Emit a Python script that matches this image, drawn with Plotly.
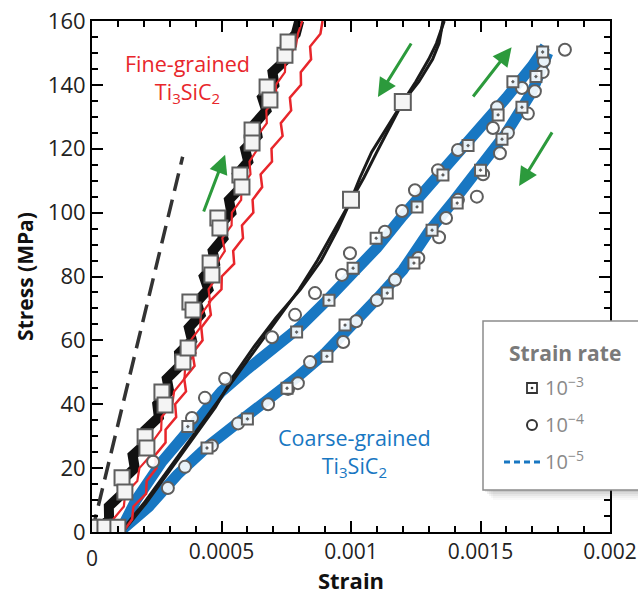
import plotly.graph_objects as go

# ---------------- data (strain in units of 1e-6 where noted, stress in MPa) ----------------
# Fine-grained Ti3SiC2, strain rate 1e-3: noisy black loading band
fine_stress = [0, 4, 8, 12, 16, 20, 24, 28, 32, 36, 40, 44, 48, 52, 56, 60, 64, 68, 72, 76, 80,
               84, 88, 92, 96, 100, 104, 108, 112, 116, 120, 124, 128, 132, 136, 140, 144, 148,
               152, 156, 160]
fine_black_strain_u = [20, 66, 65, 117, 114, 165, 157, 212, 206, 258, 252, 298, 289, 339, 336,
                       386, 374, 419, 404, 449, 432, 475, 466, 507, 491, 538, 529, 576, 560, 603,
                       591, 639, 630, 673, 657, 704, 697, 750, 745, 787, 800]
# Fine-grained, 1e-4 (red, running along the black band)
fine_red1_strain_u = [68, 82, 123, 128, 175, 183, 227, 231, 267, 269, 310, 317, 357, 360, 400,
                      381, 418, 420, 456, 450, 483, 481, 513, 503, 539, 540, 576, 577, 612, 608,
                      640, 639, 675, 673, 712, 710, 745, 747, 787, 795, 812]
# Fine-grained, 1e-5 (red, softer response)
fine_red2_strain_u = [120, 155, 160, 209, 211, 249, 243, 284, 284, 325, 321, 363, 356, 396, 388,
                      427, 422, 459, 452, 500, 501, 549, 545, 583, 579, 623, 620, 657, 651, 695,
                      693, 736, 729, 769, 764, 807, 806, 846, 842, 882, 890]

# Fine-grained 1e-3 markers
fine_sq_strain_u = [0, 50, 100, 116, 127, 205, 212, 270, 282, 351, 371, 378, 390, 456, 463, 486,
                    494, 571, 579, 618, 618, 676, 687, 745, 757]
fine_sq_stress = [1.5, 1.5, 1.5, 17, 12.5, 29.8, 26.3, 43.8, 39.8, 53.2, 57.6, 72, 69.5, 84.2,
                  80.5, 98.3, 95.2, 111.8, 108, 125.9, 121.8, 139.3, 135.3, 149.3, 153.4]

# Elastic reference line (dashed)
elastic_strain_u = [0, 350]
elastic_stress = [0, 117.5]

# Coarse-grained Ti3SiC2, 1e-3: loading / unloading loop (black)
coarse_a_strain_u = [110, 200, 290, 380, 470, 560, 640, 720, 800, 870, 940, 1000, 1050, 1100,
                     1150, 1200, 1250, 1300, 1330, 1360]
coarse_a_stress = [0, 9, 19, 29, 39, 49, 58, 67, 76, 85, 95, 104, 111, 119, 127, 134.6, 141,
                   148, 153, 160]
coarse_b_strain_u = [118, 208, 298, 388, 476, 548, 625, 710, 805, 885, 950, 1000, 1035, 1080,
                     1140, 1200, 1262, 1315, 1340, 1355]
coarse_b_stress = coarse_a_stress
coarse_big_sq_strain_u = [1000, 1200]
coarse_big_sq_stress = [104, 134.6]

# Coarse-grained, 1e-5: loading (upper) and unloading (lower) bands (blue)
blue_up_strain_u = [120, 170, 270, 400, 500, 600, 700, 800, 900, 1000, 1100, 1200, 1300, 1400,
                    1500, 1600, 1700, 1750]
blue_up_stress = [2, 10, 22, 35, 44, 51, 57, 64, 72, 80, 89, 99, 108, 117, 126, 136, 146, 152]
blue_dn_strain_u = [120, 220, 330, 450, 560, 680, 800, 900, 1000, 1100, 1200, 1300, 1400, 1500,
                    1600, 1700, 1760]
blue_dn_stress = [1, 8, 18, 27, 34, 41, 49, 56, 64, 73, 82, 94, 104, 114, 125, 138, 150]

# Coarse-grained, 1e-4 (open circles)
circ_strain_u = [236, 386, 436, 514, 695, 784, 861, 965, 996, 1131, 1197, 1247, 1336, 1413,
                 1548, 1564, 1660, 293, 359, 463, 564, 680, 757, 795, 842, 970, 1020, 1100, 1170,
                 1260, 1340, 1367, 1413, 1486, 1510, 1575, 1606, 1683, 1710, 1740, 1745, 1826]
circ_stress = [22, 35.7, 42, 48, 61, 68, 74.8, 80.5, 87.3, 94, 100.5, 107, 113.3, 119.6, 126.5,
               133, 139, 13.8, 20.4, 27, 34, 40, 44.8, 46.6, 53.2, 59.5, 66, 72.6, 79, 85.8, 92.3,
               98.3, 104, 105, 112, 118.6, 125, 131, 138, 144, 147.5, 151]

# Coarse-grained, 1e-3 (dotted squares)
dsq_strain_u = [370, 444, 600, 753, 790, 907, 915, 977, 1008, 1097, 1140, 1243, 1255, 1313,
                1355, 1410, 1452, 1500, 1568, 1583, 1625, 1660, 1714, 1740]
dsq_stress = [33, 26.3, 35.4, 45, 62.6, 55, 72.6, 64.8, 82.6, 92, 74.8, 84.2, 101.8, 94.5, 111.8,
              103, 121, 113.3, 130.6, 123, 141, 133, 142.6, 150.3]

# Loading / unloading direction arrows: (tail strain, tail stress, head strain, head stress)
arrow_tail_strain_u = [429, 1236, 1467, 1780]
arrow_tail_stress = [99.9, 153.4, 135.9, 125.6]
arrow_head_strain_u = [514, 1104, 1620, 1649]
arrow_head_stress = [118.1, 136.2, 151.8, 108.3]

x_tick_vals = [0.0005, 0.001, 0.0015, 0.002]
x_tick_text = ["0.0005", "0.001", "0.0015", "0.002"]
legend_labels = ["10<sup>\u22123</sup>", "10<sup>\u22124</sup>", "10<sup>\u22125</sup>"]


def u(vals):
    return [v * 1e-6 for v in vals]


FONT = "Open Sans"
BLUE = "#1877c2"
RED = "#e8262b"
GREEN = "#2c9a3c"
MARKER_EDGE = "#5e5e5e"

fig = go.Figure()

# blue bands (coarse-grained, 1e-5)
for xs, ys in ((blue_up_strain_u, blue_up_stress), (blue_dn_strain_u, blue_dn_stress)):
    fig.add_trace(go.Scatter(x=u(xs), y=ys, mode="lines",
                             line=dict(color=BLUE, width=11), hoverinfo="skip"))

# coarse-grained 1e-3 loop
for xs, ys in ((coarse_a_strain_u, coarse_a_stress), (coarse_b_strain_u, coarse_b_stress)):
    fig.add_trace(go.Scatter(x=u(xs), y=ys, mode="lines",
                             line=dict(color="#1a1a1a", width=3), hoverinfo="skip"))

# fine-grained curves
fig.add_trace(go.Scatter(x=u(fine_red2_strain_u), y=fine_stress, mode="lines",
                         line=dict(color=RED, width=2.5), hoverinfo="skip"))
fig.add_trace(go.Scatter(x=u(fine_black_strain_u), y=fine_stress, mode="lines",
                         line=dict(color="#111111", width=10), hoverinfo="skip"))
fig.add_trace(go.Scatter(x=u(fine_red1_strain_u), y=fine_stress, mode="lines",
                         line=dict(color=RED, width=2.2), hoverinfo="skip"))

# dashed elastic line
fig.add_trace(go.Scatter(x=u(elastic_strain_u), y=elastic_stress, mode="lines",
                         line=dict(color="#333333", width=3.5, dash="18px,9px"),
                         hoverinfo="skip"))

# markers
fig.add_trace(go.Scatter(x=u(circ_strain_u), y=circ_stress, mode="markers",
                         marker=dict(symbol="circle", size=12, color="rgba(255,255,255,0.9)",
                                     line=dict(color=MARKER_EDGE, width=2)),
                         hoverinfo="skip"))
fig.add_trace(go.Scatter(x=u(dsq_strain_u), y=dsq_stress, mode="markers",
                         marker=dict(symbol="square-dot", size=11, color="rgba(255,255,255,0.9)",
                                     line=dict(color=MARKER_EDGE, width=2)),
                         hoverinfo="skip"))
fig.add_trace(go.Scatter(x=u(fine_sq_strain_u), y=fine_sq_stress, mode="markers",
                         marker=dict(symbol="square", size=15, color="#f4f4f4",
                                     line=dict(color=MARKER_EDGE, width=2)),
                         hoverinfo="skip"))
fig.add_trace(go.Scatter(x=u(coarse_big_sq_strain_u), y=coarse_big_sq_stress, mode="markers",
                         marker=dict(symbol="square", size=16, color="#f4f4f4",
                                     line=dict(color=MARKER_EDGE, width=2)),
                         hoverinfo="skip"))

annotations = []
# direction arrows
for tx, ty, hx, hy in zip(u(arrow_tail_strain_u), arrow_tail_stress,
                          u(arrow_head_strain_u), arrow_head_stress):
    annotations.append(dict(x=hx, y=hy, ax=tx, ay=ty, xref="x", yref="y", axref="x", ayref="y",
                            text="", showarrow=True, arrowhead=2, arrowsize=1.25,
                            arrowwidth=3, arrowcolor=GREEN))

# labels for the two materials
annotations.append(dict(x=0.00037, y=142, xref="x", yref="y", showarrow=False,
                        text="Fine-grained<br>Ti<sub>3</sub>SiC<sub>2</sub>",
                        xanchor="center", yanchor="middle",
                        font=dict(family=FONT, size=21.5, color=RED), align="center"))
annotations.append(dict(x=0.001015, y=25, xref="x", yref="y", showarrow=False,
                        text="Coarse-grained<br>Ti<sub>3</sub>SiC<sub>2</sub>",
                        xanchor="center", yanchor="middle",
                        font=dict(family=FONT, size=21.5, color=BLUE), align="center"))

# lowered "0" label of the strain axis
annotations.append(dict(x=0, y=-0.051, xref="x", yref="paper", showarrow=False, text="0",
                        xanchor="center", yanchor="middle",
                        font=dict(family=FONT, size=21, color="#222222")))

# legend box content (positions given in figure pixels)
PW, PH, L, B = 518.0, 511.0, 92.0, 532.0


def px(xp):
    return (xp - L) / PW


def py(yp):
    return (B - yp) / PH


annotations.append(dict(x=px(565), y=py(353), xref="paper", yref="paper", showarrow=False,
                        text="<b>Strain rate</b>", xanchor="center", yanchor="middle",
                        font=dict(family=FONT, size=21, color="#7a7a7a")))
for lbl, yy in zip(legend_labels, [386, 423, 460]):
    annotations.append(dict(x=px(543), y=py(yy), xref="paper", yref="paper", showarrow=False,
                            text=lbl, xanchor="left", yanchor="middle",
                            font=dict(family=FONT, size=20, color="#8a8a8a")))

shapes = []
# legend shadow
for k, op in enumerate([0.10, 0.08, 0.06, 0.04, 0.03]):
    d = 2 + 2 * k
    shapes.append(dict(type="rect", xref="paper", yref="paper", x0=px(483 + d), x1=px(660),
                       y0=py(490 + d), y1=py(321 + d), line=dict(width=0),
                       fillcolor=f"rgba(60,60,60,{op})", layer="above"))
shapes.append(dict(type="rect", xref="paper", yref="paper", x0=px(483), x1=px(660),
                   y0=py(490), y1=py(321), line=dict(color="#8c8c8c", width=1.5),
                   fillcolor="white", layer="above"))
# legend glyphs
shapes.append(dict(type="rect", xref="paper", yref="paper", xsizemode="pixel",
                   ysizemode="pixel", xanchor=px(532), yanchor=py(388), x0=-5, x1=5,
                   y0=-5, y1=5, line=dict(color="#333333", width=1.8), fillcolor="white",
                   layer="above"))
shapes.append(dict(type="circle", xref="paper", yref="paper", xsizemode="pixel",
                   ysizemode="pixel", xanchor=px(532), yanchor=py(388), x0=-1.3, x1=1.3,
                   y0=-1.3, y1=1.3, line=dict(width=0), fillcolor="#333333", layer="above"))
shapes.append(dict(type="circle", xref="paper", yref="paper", xsizemode="pixel",
                   ysizemode="pixel", xanchor=px(532), yanchor=py(425), x0=-5, x1=5,
                   y0=-5, y1=5, line=dict(color="#333333", width=2), fillcolor="white",
                   layer="above"))
shapes.append(dict(type="line", xref="paper", yref="paper", x0=px(504), x1=px(540),
                   y0=py(462), y1=py(462), line=dict(color=BLUE, width=3, dash="6px,4px"),
                   layer="above"))

axis_common = dict(showline=True, linecolor="black", linewidth=2, mirror="allticks",
                   ticks="inside", tickwidth=2, ticklen=11, tickcolor="black",
                   showgrid=False, zeroline=False, automargin=False,
                   ticklabeloverflow="allow")

fig.update_layout(
    width=638, height=595,
    margin=dict(l=92, r=28, t=21, b=63),
    paper_bgcolor="white", plot_bgcolor="white",
    showlegend=False,
    xaxis=dict(range=[0, 0.002], tickmode="array", tickvals=x_tick_vals, ticktext=x_tick_text,
               minor=dict(tickmode="linear", tick0=0, dtick=0.0001, ticks="inside", ticklen=6,
                          tickwidth=1.5, tickcolor="black"),
               tickfont=dict(family=FONT, size=21, color="#222222"),
               title=dict(text="<b>Strain</b>", font=dict(family=FONT, size=22, color="#111111"),
                          standoff=12),
               **axis_common),
    yaxis=dict(range=[0, 160], tickmode="linear", tick0=0, dtick=20,
               minor=dict(tickmode="linear", tick0=0, dtick=5, ticks="inside", ticklen=6,
                          tickwidth=1.5, tickcolor="black"),
               tickfont=dict(family=FONT, size=22, color="#222222"),
               title=dict(text="<b>Stress (MPa)</b>",
                          font=dict(family=FONT, size=21, color="#111111"), standoff=8),
               **axis_common),
    annotations=annotations,
    shapes=shapes,
)

fig.write_html("out.html")
